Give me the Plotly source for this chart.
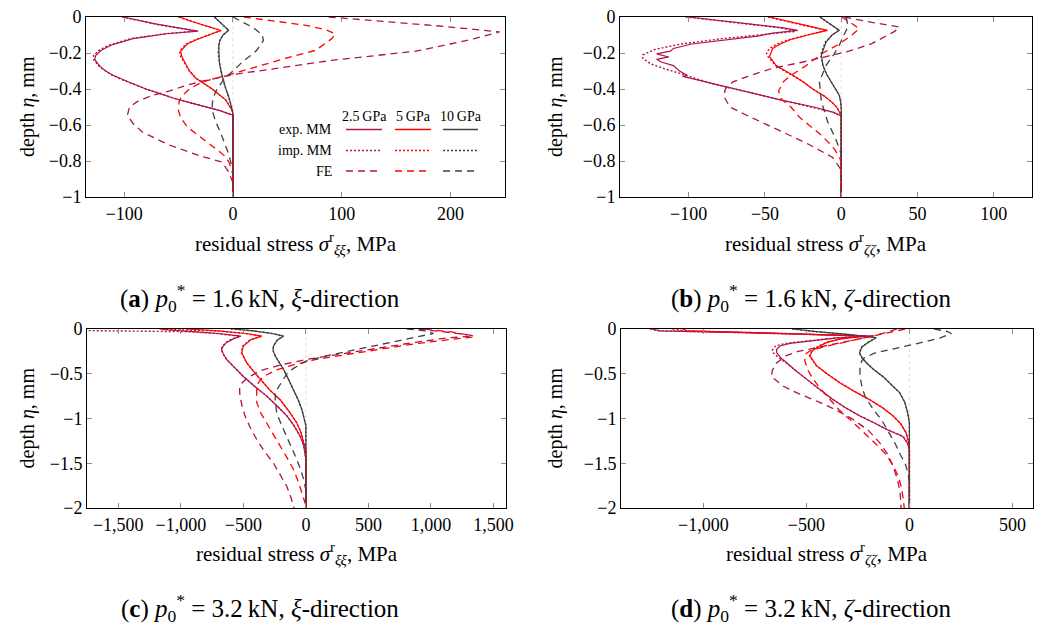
import plotly.graph_objects as go

# ---------------- data: panel (a) xi-direction, p0* = 1.6 kN ----------------
A_EXP25_D = [0, -0.02, -0.04, -0.06, -0.078, -0.093, -0.12, -0.157, -0.185, -0.213, -0.235, -0.26, -0.28, -0.3, -0.324, -0.35, -0.37, -0.4, -0.426, -0.45, -0.48, -0.52, -0.546, -0.6, -0.7, -0.8, -0.9, -1.0]
A_EXP25_S = [-101, -86, -70, -50, -32, -61, -92, -112, -121, -126, -127, -124, -121, -117, -110, -100, -92, -80, -67, -55, -37, -12, 0, 0, 0.5, 0, 0.5, 0]
A_IMP25_D = [0, -0.02, -0.04, -0.06, -0.078, -0.093, -0.12, -0.157, -0.185, -0.213, -0.235, -0.26, -0.28, -0.3, -0.324, -0.35, -0.37, -0.4, -0.426, -0.45, -0.48, -0.52, -0.546, -0.7, -1.0]
A_IMP25_S = [-102, -87, -71, -52, -33, -62, -94, -114, -123, -128, -128, -125, -122, -117, -111, -101, -93, -80, -67, -55, -37, -12, 0, 0, 0]
A_EXP5_D = [0, -0.025, -0.05, -0.075, -0.1, -0.125, -0.15, -0.19, -0.22, -0.27, -0.3, -0.34, -0.4, -0.46, -0.49, -0.52, -0.55, -0.7, -0.85, -1.0]
A_EXP5_S = [-49, -38, -24, -11, -22, -33, -42, -48, -47, -43, -40, -34, -19, -6.7, -3.5, -0.5, 0, 0, 0, 0]
A_IMP5_D = [0, -0.025, -0.05, -0.075, -0.1, -0.125, -0.15, -0.19, -0.22, -0.27, -0.3, -0.34, -0.4, -0.46, -0.49, -0.52, -0.55, -1.0]
A_IMP5_S = [-50, -38, -25, -11, -23, -34, -43, -49, -48, -43, -40, -34, -19, -6.7, -3.5, -0.5, 0, 0]
A_EXP10_D = [0, -0.03, -0.05, -0.074, -0.1, -0.13, -0.16, -0.2, -0.25, -0.3, -0.35, -0.4, -0.44, -0.48, -0.52, -0.55, -0.7, -0.85, -1.0]
A_EXP10_S = [-17, -12, -8, -4, -9, -12, -13, -13, -12.5, -11, -9, -6.5, -4, -2, -0.5, 0, 0, 0, 0]
A_IMP10_D = [0, -0.03, -0.05, -0.074, -0.1, -0.13, -0.16, -0.2, -0.25, -0.3, -0.35, -0.4, -0.44, -0.48, -0.52, -0.55, -1.0]
A_IMP10_S = [-17, -12, -8, -4, -9, -12, -13, -13.5, -12.5, -11, -9, -6.5, -4, -2, -0.5, 0, 0]
A_FE25_D = [0, -0.02, -0.05, -0.083, -0.12, -0.15, -0.19, -0.24, -0.28, -0.32, -0.36, -0.38, -0.41, -0.435, -0.47, -0.5, -0.546, -0.59, -0.64, -0.71, -0.77, -0.806, -0.86, -0.92, -1.0]
A_FE25_S = [88, 130, 190, 245, 222, 200, 168, 92, 46, 0, -31, -43, -58, -74, -88, -95, -97, -92, -83, -59, -31, -10, -4, 0, 0]
A_FE5_D = [0, -0.02, -0.046, -0.07, -0.093, -0.12, -0.15, -0.185, -0.23, -0.278, -0.315, -0.36, -0.4, -0.44, -0.47, -0.52, -0.56, -0.61, -0.65, -0.69, -0.73, -0.77, -0.806, -0.85, -0.88, -1.0]
A_FE5_S = [10, 35, 67, 85, 94, 91, 84, 76, 48, 22, 0, -28, -40, -47, -49.5, -50, -48, -42, -34, -25, -16, -8, -3.7, -1, 0, 0]
A_FE10_D = [0, -0.03, -0.06, -0.1, -0.13, -0.16, -0.19, -0.22, -0.25, -0.29, -0.32, -0.36, -0.415, -0.46, -0.49, -0.54, -0.58, -0.64, -0.71, -0.76, -0.806, -0.85, -1.0]
A_FE10_S = [0, 10, 19, 27, 28, 25, 21, 15, 8.5, 2, -3.7, -10, -16, -18.5, -19, -18, -16, -11.5, -6.7, -4, -2, 0, 0]

# ---------------- data: panel (b) zeta-direction, p0* = 1.6 kN ----------------
B_EXP25_D = [0, -0.02, -0.04, -0.06, -0.074, -0.09, -0.106, -0.129, -0.15, -0.175, -0.19, -0.205, -0.222, -0.235, -0.25, -0.27, -0.3, -0.324, -0.33, -0.37, -0.42, -0.46, -0.5, -0.53, -0.55, -0.6, -0.8, -1.0]
B_EXP25_S = [-100, -80, -58, -38, -28.5, -45, -55, -79.5, -98, -110, -112, -121, -113, -121, -118, -110, -106, -101, -104, -84, -60, -40, -18, -5, 0, 0, 0, 0]
B_IMP25_D = [0, -0.02, -0.04, -0.06, -0.08, -0.1, -0.12, -0.15, -0.18, -0.21, -0.23, -0.26, -0.29, -0.32, -0.37, -0.42, -0.46, -0.5, -0.53, -0.55, -1.0]
B_IMP25_S = [-102, -80, -60, -40, -30, -55, -78, -105, -122, -130, -130, -125, -115, -103, -85, -60, -40, -18, -5, 0, 0]
B_EXP5_D = [0, -0.02, -0.046, -0.074, -0.1, -0.125, -0.15, -0.175, -0.22, -0.27, -0.324, -0.36, -0.4, -0.44, -0.47, -0.5, -0.53, -0.55, -0.7, -1.0]
B_EXP5_S = [-47, -37, -25, -9, -22, -33, -40, -45, -47, -42.6, -31.7, -25, -18.7, -11, -6.5, -3, -1, 0, 0, 0]
B_IMP5_D = [0, -0.02, -0.046, -0.074, -0.1, -0.125, -0.15, -0.175, -0.2, -0.22, -0.27, -0.324, -0.36, -0.4, -0.44, -0.47, -0.5, -0.53, -0.55, -1.0]
B_IMP5_S = [-48, -37, -25, -10, -23, -34, -42, -47, -49, -48, -43, -32, -25, -18.7, -11, -6.5, -3, -1, 0, 0]
B_EXP10_D = [0, -0.03, -0.05, -0.074, -0.1, -0.14, -0.21, -0.27, -0.32, -0.36, -0.4, -0.435, -0.47, -0.51, -1.0]
B_EXP10_S = [-14, -9, -5, -1.3, -6, -10, -13, -12, -9.5, -6.7, -3.5, -1.3, -0.4, 0, 0]
B_IMP10_D = [0, -0.03, -0.05, -0.074, -0.1, -0.14, -0.21, -0.27, -0.32, -0.36, -0.4, -0.435, -0.47, -0.51, -1.0]
B_IMP10_S = [-14, -9, -5, -1.5, -6, -10.5, -13.5, -12, -9.5, -6.7, -3.5, -1.3, -0.4, 0, 0]
B_FE25_D = [0, -0.03, -0.055, -0.08, -0.148, -0.19, -0.22, -0.25, -0.285, -0.32, -0.36, -0.4, -0.44, -0.5, -0.546, -0.62, -0.7, -0.78, -0.85, -1.0]
B_FE25_S = [2, 20, 38, 35, 20, 5, -10, -25, -45, -58, -71, -76, -77, -73, -62, -43, -23, -5.6, 0, 0]
B_FE5_D = [0, -0.03, -0.065, -0.1, -0.15, -0.2, -0.27, -0.33, -0.36, -0.41, -0.45, -0.5, -0.56, -0.6, -0.65, -0.7, -0.74, -0.8, -1.0]
B_FE5_S = [0, 6, 11.7, 7, -1.3, -12, -23, -34, -38, -41, -40, -33, -27, -21, -14, -8, -4, 0, 0]
B_FE10_D = [0, -0.03, -0.06, -0.1, -0.157, -0.21, -0.27, -0.36, -0.47, -0.58, -0.68, -0.76, -1.0]
B_FE10_S = [3, 4, 4, 2, -1.3, -5, -10, -14.3, -13, -9, -3.5, 0, 0]

# ---------------- data: panel (c) xi-direction, p0* = 3.2 kN ----------------
C_EXP25_D = [0, -0.01, -0.03, -0.05, -0.08, -0.11, -0.15, -0.2, -0.23, -0.28, -0.34, -0.43, -0.53, -0.64, -0.75, -0.86, -0.97, -1.08, -1.2, -1.3, -1.385, -1.45, -1.7, -2.0]
C_EXP25_S = [-1170, -1100, -900, -700, -520, -580, -634, -665, -674, -660, -634, -570, -500, -410, -313, -230, -152, -95, -45, -18, -5, 0, 0, 0]
C_IMP25_D = [-0.005, -0.02, -0.03, -0.05, -0.08, -0.11, -0.15, -0.2, -0.23, -0.28, -0.34, -0.43, -0.53, -0.64, -0.75, -0.86, -0.97, -1.08, -1.2, -1.3, -1.385, -1.45, -2.0]
C_IMP25_S = [-2600, -1500, -950, -720, -530, -590, -640, -670, -676, -662, -634, -570, -500, -410, -313, -230, -152, -95, -45, -18, -5, 0, 0]
C_EXP5_D = [0, -0.02, -0.05, -0.08, -0.12, -0.19, -0.265, -0.377, -0.47, -0.56, -0.68, -0.79, -0.92, -1.05, -1.16, -1.27, -1.35, -1.5, -2.0]
C_EXP5_S = [-960, -700, -480, -353, -440, -500, -513, -473, -420, -366, -290, -206, -135, -72, -38, -18, 0, 0, 0]
C_IMP5_D = [-0.005, -0.02, -0.05, -0.08, -0.12, -0.19, -0.265, -0.377, -0.47, -0.56, -0.68, -0.79, -0.92, -1.05, -1.16, -1.27, -1.35, -2.0]
C_IMP5_S = [-1150, -720, -485, -355, -445, -505, -515, -475, -420, -366, -290, -206, -135, -72, -38, -18, 0, 0]
C_EXP10_D = [0, -0.02, -0.05, -0.08, -0.12, -0.19, -0.24, -0.3, -0.37, -0.45, -0.56, -0.675, -0.79, -0.9, -1.0, -1.08, -1.3, -2.0]
C_EXP10_S = [-580, -420, -270, -179, -225, -259, -262, -246, -215, -179, -140, -99, -62, -32, -12, 0, 0, 0]
C_IMP10_D = [0, -0.02, -0.05, -0.08, -0.12, -0.19, -0.24, -0.3, -0.37, -0.45, -0.56, -0.675, -0.79, -0.9, -1.0, -1.08, -2.0]
C_IMP10_S = [-600, -425, -272, -180, -227, -260, -263, -246, -215, -179, -140, -99, -62, -32, -12, 0, 0]
C_FE25_D = [0, -0.03, -0.06, -0.08, -0.1, -0.15, -0.21, -0.27, -0.34, -0.4, -0.46, -0.53, -0.6, -0.67, -0.75, -0.86, -0.97, -1.1, -1.235, -1.37, -1.5, -1.63, -1.76, -1.88, -2.0]
C_FE25_S = [900, 1100, 1280, 1342, 1128, 870, 593, 300, 5, -200, -350, -450, -510, -530, -527, -510, -487, -445, -393, -330, -259, -205, -152, -120, -95]
C_FE5_D = [0, -0.03, -0.06, -0.09, -0.11, -0.16, -0.22, -0.28, -0.34, -0.4, -0.46, -0.53, -0.6, -0.675, -0.75, -0.82, -0.94, -1.05, -1.18, -1.31, -1.44, -1.57, -1.7, -1.83, -1.95, -2.0]
C_FE5_S = [950, 1150, 1270, 1330, 1200, 900, 620, 330, 80, -100, -240, -339, -380, -393, -395, -393, -360, -313, -260, -206, -150, -99, -62, -32, -5, 0]
C_FE10_D = [0, -0.02, -0.05, -0.1, -0.17, -0.246, -0.3, -0.36, -0.44, -0.5, -0.56, -0.63, -0.71, -0.8, -0.94, -1.07, -1.2, -1.33, -1.46, -1.57, -1.68, -1.8, -2.0]
C_FE10_S = [807, 950, 1021, 850, 600, 326, 160, 0, -100, -152, -179, -215, -246, -245, -233, -195, -152, -110, -72, -42, -18, 0, 0]

# ---------------- data: panel (d) zeta-direction, p0* = 3.2 kN ----------------
D_EXP25_D = [0, -0.02, -0.04, -0.06, -0.08, -0.1, -0.134, -0.16, -0.19, -0.23, -0.265, -0.32, -0.377, -0.47, -0.56, -0.67, -0.79, -0.88, -0.97, -1.05, -1.12, -1.2, -1.28, -1.35, -1.5, -2.0]
D_EXP25_S = [-1250, -1208, -800, -450, -177, -350, -499, -580, -628, -645, -644, -625, -596, -550, -499, -440, -370, -310, -242, -170, -113, -32, -8, 0, 0, 0]
D_IMP25_D = [0, -0.02, -0.04, -0.06, -0.08, -0.1, -0.134, -0.16, -0.19, -0.235, -0.27, -0.32, -0.377, -0.47, -0.56, -0.67, -0.79, -0.88, -0.97, -1.05, -1.12, -1.2, -1.28, -1.35, -2.0]
D_IMP25_S = [-1260, -1220, -820, -460, -180, -360, -515, -600, -650, -665, -660, -635, -600, -552, -500, -440, -370, -310, -242, -170, -110, -30, -8, 0, 0]
D_EXP5_D = [0, -0.02, -0.05, -0.08, -0.11, -0.15, -0.19, -0.24, -0.3, -0.41, -0.5, -0.6, -0.7, -0.79, -0.88, -0.97, -1.06, -1.16, -1.3, -2.0]
D_EXP5_S = [-1100, -1079, -600, -225, -330, -400, -435, -470, -483, -451, -400, -338, -265, -193, -130, -80, -42, -16, 0, 0]
D_IMP5_D = [0, -0.02, -0.05, -0.08, -0.11, -0.15, -0.19, -0.24, -0.3, -0.41, -0.5, -0.6, -0.7, -0.79, -0.88, -0.97, -1.06, -1.16, -1.3, -2.0]
D_IMP5_S = [-1150, -1090, -610, -228, -335, -405, -440, -472, -485, -452, -400, -338, -265, -193, -130, -80, -42, -16, 0, 0]
D_EXP10_D = [0, -0.03, -0.06, -0.097, -0.15, -0.2, -0.265, -0.32, -0.377, -0.45, -0.53, -0.62, -0.71, -0.82, -0.94, -1.05, -2.0]
D_EXP10_S = [-563, -450, -300, -161, -200, -230, -242, -230, -209, -175, -129, -88, -48, -22, -8, 0, 0]
D_IMP10_D = [0, -0.03, -0.06, -0.097, -0.15, -0.2, -0.265, -0.32, -0.377, -0.45, -0.53, -0.62, -0.71, -0.82, -0.94, -1.05, -2.0]
D_IMP10_S = [-570, -455, -305, -163, -202, -232, -243, -231, -209, -175, -129, -88, -48, -22, -8, 0, 0]
D_FE25_D = [0, -0.05, -0.1, -0.15, -0.2, -0.25, -0.3, -0.38, -0.46, -0.53, -0.64, -0.72, -0.82, -0.9, -1.01, -1.13, -1.27, -1.4, -1.53, -1.68, -1.83, -2.0]
D_FE25_S = [-60, -130, -220, -330, -440, -540, -600, -645, -665, -670, -612, -540, -435, -360, -274, -200, -145, -105, -80, -58, -45, -40]
D_FE5_D = [0, -0.06, -0.12, -0.18, -0.24, -0.28, -0.35, -0.45, -0.55, -0.645, -0.75, -0.9, -1.03, -1.17, -1.28, -1.39, -1.52, -1.65, -1.78, -1.91, -2.0]
D_FE5_S = [-21, -140, -260, -380, -480, -505, -508, -495, -470, -440, -400, -343, -280, -214, -165, -118, -80, -53, -38, -29, -25]
D_FE10_D = [0, -0.025, -0.05, -0.1, -0.16, -0.22, -0.27, -0.33, -0.4, -0.53, -0.65, -0.76, -0.9, -1.02, -1.15, -1.28, -1.4, -1.5, -1.6, -1.7, -2.0]
D_FE10_S = [120, 180, 204, 150, 43, -80, -170, -225, -240, -240, -230, -214, -175, -134, -100, -69, -45, -21, -8, 0, 0]

# tick values and labels
A_XTICKS = [-100, 0, 100, 200]
B_XTICKS = [-100, -50, 0, 50, 100]
C_XTICKS = [-1500, -1000, -500, 0, 500, 1000, 1500]
D_XTICKS = [-1000, -500, 0, 500]
TOP_YTICKS = [0, -0.2, -0.4, -0.6, -0.8, -1]
BOT_YTICKS = [0, -0.5, -1, -1.5, -2]
SERIES_LABELS = ["2.5 GPa", "5 GPa", "10 GPa"]
ROW_LABELS = ["exp. MM", "imp. MM", "FE"]

# ---------------- styling ----------------
W, H = 1048, 628
FONT = "Liberation Serif, Times New Roman, serif"
COL = {"25": "#B0124E", "5": "#FF0000", "10": "#404040"}
DASH = {"exp": "solid", "imp": "2px,2px", "fe": "7px,5px"}
WID = {"exp": 1.2, "imp": 1.4, "fe": 1.3}


def px(x):
    return x / W


def py(y):
    return 1 - y / H


def fmt(v):
    if float(v).is_integer():
        s = f"{int(abs(v)):,}"
    else:
        s = f"{abs(v)}"
    return ("\u2212" + s) if v < 0 else s


panels = {
    "a": dict(xa="x", ya="y", dom_x=(86, 505), dom_y=(17, 197), xr=[-135, 250], yr=[-1, 0],
              xt=A_XTICKS, yt=TOP_YTICKS, sub="ξξ", cap="(<b>a</b>) <i>p</i><sub>0</sub><sup>*</sup> = 1.6\u2009kN, <i>ξ</i>-direction",
              curves=[("exp", "25", A_EXP25_D, A_EXP25_S), ("exp", "5", A_EXP5_D, A_EXP5_S), ("exp", "10", A_EXP10_D, A_EXP10_S),
                      ("imp", "25", A_IMP25_D, A_IMP25_S), ("imp", "5", A_IMP5_D, A_IMP5_S), ("imp", "10", A_IMP10_D, A_IMP10_S),
                      ("fe", "25", A_FE25_D, A_FE25_S), ("fe", "5", A_FE5_D, A_FE5_S), ("fe", "10", A_FE10_D, A_FE10_S)]),
    "b": dict(xa="x2", ya="y2", dom_x=(620, 1032), dom_y=(17, 197), xr=[-145, 125], yr=[-1, 0],
              xt=B_XTICKS, yt=TOP_YTICKS, sub="ζζ", cap="(<b>b</b>) <i>p</i><sub>0</sub><sup>*</sup> = 1.6\u2009kN, <i>ζ</i>-direction",
              curves=[("exp", "25", B_EXP25_D, B_EXP25_S), ("exp", "5", B_EXP5_D, B_EXP5_S), ("exp", "10", B_EXP10_D, B_EXP10_S),
                      ("imp", "25", B_IMP25_D, B_IMP25_S), ("imp", "5", B_IMP5_D, B_IMP5_S), ("imp", "10", B_IMP10_D, B_IMP10_S),
                      ("fe", "25", B_FE25_D, B_FE25_S), ("fe", "5", B_FE5_D, B_FE5_S), ("fe", "10", B_FE10_D, B_FE10_S)]),
    "c": dict(xa="x3", ya="y3", dom_x=(87, 506), dom_y=(329, 508), xr=[-1750, 1600], yr=[-2, 0],
              xt=C_XTICKS, yt=BOT_YTICKS, sub="ξξ", cap="(<b>c</b>) <i>p</i><sub>0</sub><sup>*</sup> = 3.2\u2009kN, <i>ξ</i>-direction",
              curves=[("exp", "25", C_EXP25_D, C_EXP25_S), ("exp", "5", C_EXP5_D, C_EXP5_S), ("exp", "10", C_EXP10_D, C_EXP10_S),
                      ("imp", "25", C_IMP25_D, C_IMP25_S), ("imp", "5", C_IMP5_D, C_IMP5_S), ("imp", "10", C_IMP10_D, C_IMP10_S),
                      ("fe", "25", C_FE25_D, C_FE25_S), ("fe", "5", C_FE5_D, C_FE5_S), ("fe", "10", C_FE10_D, C_FE10_S)]),
    "d": dict(xa="x4", ya="y4", dom_x=(621, 1033), dom_y=(329, 508), xr=[-1400, 600], yr=[-2, 0],
              xt=D_XTICKS, yt=BOT_YTICKS, sub="ζζ", cap="(<b>d</b>) <i>p</i><sub>0</sub><sup>*</sup> = 3.2\u2009kN, <i>ζ</i>-direction",
              curves=[("exp", "25", D_EXP25_D, D_EXP25_S), ("exp", "5", D_EXP5_D, D_EXP5_S), ("exp", "10", D_EXP10_D, D_EXP10_S),
                      ("imp", "25", D_IMP25_D, D_IMP25_S), ("imp", "5", D_IMP5_D, D_IMP5_S), ("imp", "10", D_IMP10_D, D_IMP10_S),
                      ("fe", "25", D_FE25_D, D_FE25_S), ("fe", "5", D_FE5_D, D_FE5_S), ("fe", "10", D_FE10_D, D_FE10_S)]),
}

fig = go.Figure()
layout = dict(width=W, height=H, margin=dict(l=0, r=0, t=0, b=0, autoexpand=False), showlegend=False,
              paper_bgcolor="white", plot_bgcolor="white",
              font=dict(family=FONT, size=17, color="black"))
annotations = []
shapes = []

cap_pos = {"a": (260, 298), "b": (811, 298), "c": (260, 608), "d": (811, 608)}
xtitle_y = {"a": 243, "b": 243, "c": 553, "d": 553}
ytitle_x = {"a": 27, "b": 555, "c": 27, "d": 555}

for key, p in panels.items():
    shapes.append(dict(type="line", xref=p["xa"], yref=p["ya"] + " domain", x0=0, x1=0, y0=0, y1=1,
                       line=dict(color="#D4D4D4", width=0.8, dash="dot"), layer="below"))
    for kind, lvl, d, s in p["curves"]:
        fig.add_trace(go.Scatter(x=s, y=d, mode="lines", xaxis=p["xa"], yaxis=p["ya"],
                                 line=dict(color=COL[lvl], width=WID[kind], dash=DASH[kind]),
                                 cliponaxis=True, hoverinfo="skip"))
    axis_common = dict(showgrid=False, zeroline=False, showline=True, linecolor="black", linewidth=1,
                       mirror="ticks", ticks="inside", ticklen=5, tickcolor="#8C8C8C", tickwidth=1,
                       automargin=False, tickfont=dict(family=FONT, size=18, color="black"))
    xname = "xaxis" if p["xa"] == "x" else "xaxis" + p["xa"][1:]
    yname = "yaxis" if p["ya"] == "y" else "yaxis" + p["ya"][1:]
    layout[xname] = dict(axis_common, domain=[px(p["dom_x"][0]), px(p["dom_x"][1])], range=p["xr"],
                         tickvals=p["xt"], ticktext=[fmt(v) for v in p["xt"]], anchor=p["ya"])
    layout[yname] = dict(axis_common, domain=[py(p["dom_y"][1]), py(p["dom_y"][0])], range=p["yr"],
                         tickvals=p["yt"], ticktext=[fmt(v) for v in p["yt"]], anchor=p["xa"])
    xc = (p["dom_x"][0] + p["dom_x"][1]) / 2
    yc = (p["dom_y"][0] + p["dom_y"][1]) / 2
    annotations.append(dict(text="residual stress <i>σ</i><sup>r</sup><sub><i>" + p["sub"] + "</i></sub>, MPa",
                            x=px(xc), y=py(xtitle_y[key]), xref="paper", yref="paper", showarrow=False,
                            font=dict(family=FONT, size=21), xanchor="center", yanchor="middle"))
    annotations.append(dict(text="depth <i>η</i>, mm", x=px(ytitle_x[key]), y=py(yc), xref="paper", yref="paper",
                            showarrow=False, textangle=-90, font=dict(family=FONT, size=20),
                            xanchor="center", yanchor="middle"))
    cx, cy = cap_pos[key]
    annotations.append(dict(text=p["cap"], x=px(cx), y=py(cy), xref="paper", yref="paper", showarrow=False,
                            font=dict(family=FONT, size=25), xanchor="center", yanchor="middle"))

# legend table inside panel (a)
col_x = [(346, 382), (395, 431), (443, 478)]
row_y = [129.5, 150.5, 171]
head_y = 116.5
kinds = ["exp", "imp", "fe"]
levels = ["25", "5", "10"]
for j, lab in enumerate(SERIES_LABELS):
    annotations.append(dict(text=lab.replace(" ", "\u2009"), x=px((col_x[j][0] + col_x[j][1]) / 2), y=py(head_y),
                            xref="paper", yref="paper", showarrow=False, font=dict(family=FONT, size=14),
                            xanchor="center", yanchor="middle"))
for i, lab in enumerate(ROW_LABELS):
    annotations.append(dict(text=lab, x=px(334), y=py(row_y[i]), xref="paper", yref="paper",
                            showarrow=False, font=dict(family=FONT, size=14), xanchor="right", yanchor="middle"))
    for j in range(3):
        shapes.append(dict(type="line", xref="paper", yref="paper", x0=px(col_x[j][0]), x1=px(col_x[j][1]),
                           y0=py(row_y[i]), y1=py(row_y[i]),
                           line=dict(color=COL[levels[j]], width=WID[kinds[i]] + 0.3, dash=DASH[kinds[i]])))

layout["annotations"] = annotations
layout["shapes"] = shapes
fig.update_layout(**layout)
fig.write_html("out.html")
